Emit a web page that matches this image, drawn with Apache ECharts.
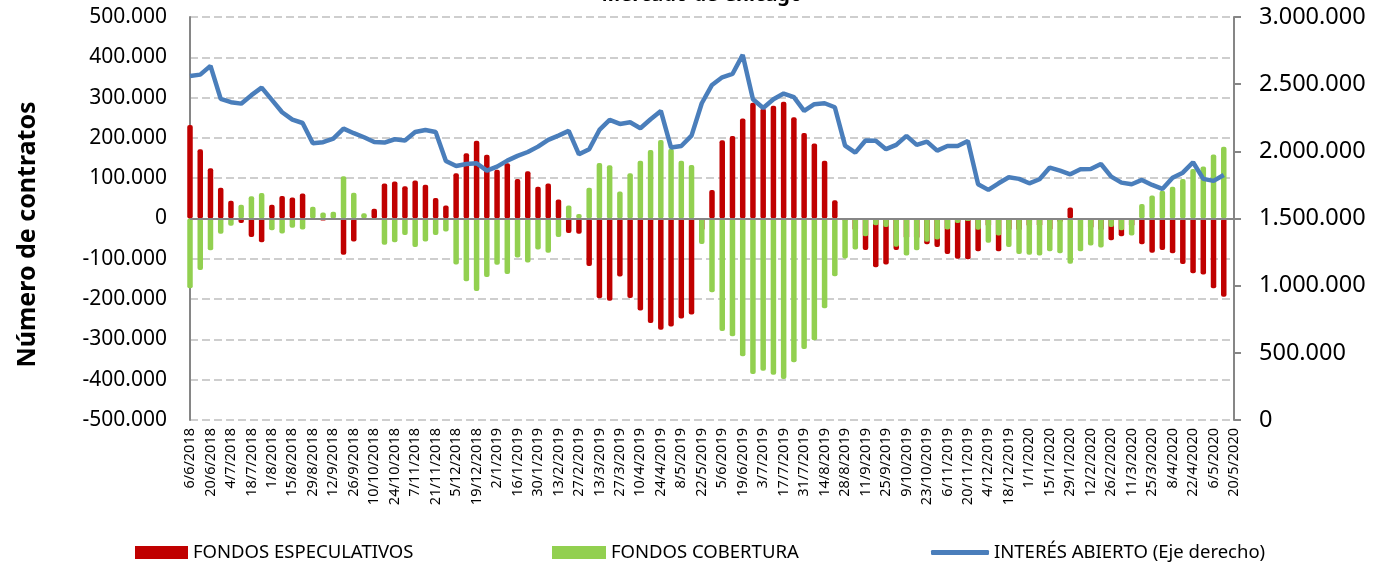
<!DOCTYPE html>
<html>
<head>
<meta charset="utf-8">
<title>Mercado de Chicago</title>
<script src="https://cdn.jsdelivr.net/npm/echarts@6/dist/echarts.min.js"></script>
<style>
  html, body { margin: 0; padding: 0; background: #fff; }
  #chart { width: 1384px; height: 568px; }
</style>
</head>
<body>
<div id="chart"></div>
<script>
// fechas semanales (eje de categorías)
const fechas = [
  '6/6/2018', '13/6/2018', '20/6/2018', '27/6/2018', '4/7/2018', '11/7/2018', '18/7/2018', '25/7/2018',
  '1/8/2018', '8/8/2018', '15/8/2018', '22/8/2018', '29/8/2018', '5/9/2018', '12/9/2018', '19/9/2018',
  '26/9/2018', '3/10/2018', '10/10/2018', '17/10/2018', '24/10/2018', '31/10/2018', '7/11/2018', '14/11/2018',
  '21/11/2018', '28/11/2018', '5/12/2018', '12/12/2018', '19/12/2018', '26/12/2018', '2/1/2019', '9/1/2019',
  '16/1/2019', '23/1/2019', '30/1/2019', '6/2/2019', '13/2/2019', '20/2/2019', '27/2/2019', '6/3/2019',
  '13/3/2019', '20/3/2019', '27/3/2019', '3/4/2019', '10/4/2019', '17/4/2019', '24/4/2019', '1/5/2019',
  '8/5/2019', '15/5/2019', '22/5/2019', '29/5/2019', '5/6/2019', '12/6/2019', '19/6/2019', '26/6/2019',
  '3/7/2019', '10/7/2019', '17/7/2019', '24/7/2019', '31/7/2019', '7/8/2019', '14/8/2019', '21/8/2019',
  '28/8/2019', '4/9/2019', '11/9/2019', '18/9/2019', '25/9/2019', '2/10/2019', '9/10/2019', '16/10/2019',
  '23/10/2019', '30/10/2019', '6/11/2019', '13/11/2019', '20/11/2019', '27/11/2019', '4/12/2019', '11/12/2019',
  '18/12/2019', '25/12/2019', '1/1/2020', '8/1/2020', '15/1/2020', '22/1/2020', '29/1/2020', '5/2/2020',
  '12/2/2020', '19/2/2020', '26/2/2020', '4/3/2020', '11/3/2020', '18/3/2020', '25/3/2020', '1/4/2020',
  '8/4/2020', '15/4/2020', '22/4/2020', '29/4/2020', '6/5/2020', '13/5/2020', '20/5/2020'
];

// posición neta (contratos)
const fondosEspeculativos = [
  232000, 172000, 125000, 76000, 44000, -11000, -46000, -59000, 34000, 56000,
  52000, 62000, -4000, -5000, -2000, -90000, -57000, -1000, 24000, 87000,
  92000, 80000, 94000, 84000, 51000, 32000, 112000, 162000, 193000, 158000,
  121000, 137000, 98000, 117000, 79000, 87000, 47000, -36000, -38000, -118000,
  -198000, -204000, -144000, -197000, -228000, -259000, -276000, -268000, -248000, -238000,
  -30000, 71000, 194000, 205000, 248000, 287000, 273000, 280000, 290000, 251000,
  212000, 186000, 143000, 45000, -5000, -30000, -78000, -121000, -114000, -78000,
  -50000, -50000, -64000, -71000, -88000, -100000, -101000, -81000, -20000, -81000,
  -30000, -30000, -20000, -20000, -29000, -10000, 27000, -5000, -25000, -30000,
  -54000, -44000, -20000, -64000, -85000, -78000, -86000, -113000, -136000, -139000,
  -173000, -194000
];

const fondosCobertura = [
  -173000, -128000, -79000, -38000, -18000, 34000, 55000, 63000, -29000, -37000,
  -23000, -27000, 29000, 15000, 17000, 105000, 64000, 13000, -4000, -65000,
  -59000, -41000, -71000, -57000, -41000, -32000, -114000, -156000, -180000, -145000,
  -115000, -138000, -97000, -109000, -77000, -85000, -46000, 32000, 11000, 76000,
  138000, 132000, 67000, 112000, 143000, 170000, 195000, 173000, 143000, 133000,
  -63000, -183000, -279000, -292000, -342000, -386000, -378000, -388000, -398000, -357000,
  -324000, -302000, -223000, -143000, -99000, -77000, -44000, -17000, -21000, -70000,
  -92000, -79000, -58000, -52000, -27000, -11000, -6000, -28000, -60000, -42000,
  -71000, -88000, -90000, -92000, -81000, -86000, -112000, -81000, -67000, -72000,
  -21000, -29000, -42000, 36000, 57000, 69000, 79000, 98000, 123000, 129000,
  159000, 178000
];

// interés abierto (eje derecho)
const interesAbierto = [
  2561000, 2571000, 2636000, 2390000, 2366000, 2355000, 2418000, 2474000, 2383000, 2291000,
  2236000, 2211000, 2060000, 2068000, 2095000, 2169000, 2135000, 2105000, 2070000, 2065000,
  2090000, 2080000, 2144000, 2159000, 2144000, 1928000, 1891000, 1906000, 1911000, 1856000,
  1886000, 1931000, 1966000, 1995000, 2035000, 2085000, 2117000, 2152000, 1978000, 2016000,
  2159000, 2234000, 2204000, 2216000, 2172000, 2239000, 2301000, 2028000, 2040000, 2117000,
  2358000, 2494000, 2551000, 2576000, 2718000, 2388000, 2323000, 2388000, 2430000, 2403000,
  2301000, 2351000, 2358000, 2328000, 2042000, 1990000, 2081000, 2078000, 2016000, 2048000,
  2115000, 2048000, 2072000, 2005000, 2040000, 2040000, 2077000, 1755000, 1713000, 1762000,
  1807000, 1795000, 1762000, 1792000, 1879000, 1856000, 1829000, 1867000, 1869000, 1906000,
  1812000, 1767000, 1755000, 1787000, 1750000, 1720000, 1804000, 1841000, 1919000, 1795000,
  1780000, 1824000
];

const FONT = '"Noto Sans", sans-serif';
const ROJO = '#c00000';
const VERDE = '#92d050';
const AZUL = '#4a7ebb';
const GRIS = '#868686';

// separador de miles con punto
function formatNum(v) {
  return String(v).replace(/\B(?=(\d{3})+(?!\d))/g, '.');
}

const chart = echarts.init(document.getElementById('chart'));

const legendText = { fontFamily: FONT, fontSize: 18.5, color: '#000' };

chart.setOption({
  animation: false,
  textStyle: { fontFamily: FONT, color: '#000' },
  graphic: [{
    type: 'text',
    style: {
      text: 'Mercado de Chicago',
      x: 702,
      y: 5,
      textAlign: 'center',
      textVerticalAlign: 'bottom',
      font: 'bold 20px ' + FONT,
      fill: '#000'
    }
  }],
  legend: [
    {
      left: 135, top: 543, padding: 0, itemWidth: 53, itemHeight: 13,
      textStyle: legendText,
      data: [{ name: 'FONDOS ESPECULATIVOS', icon: 'rect' }]
    },
    {
      left: 552, top: 543, padding: 0, itemWidth: 54, itemHeight: 13,
      textStyle: legendText,
      data: [{ name: 'FONDOS COBERTURA', icon: 'rect' }]
    },
    {
      left: 931, top: 543, padding: 0, itemWidth: 58, itemHeight: 5,
      textStyle: legendText,
      data: [{ name: 'INTERÉS ABIERTO (Eje derecho)', icon: 'roundRect' }]
    }
  ],
  grid: { left: 190, right: 150, top: 17, bottom: 148, outerBoundsMode: 'none' },
  xAxis: {
    type: 'category',
    data: fechas,
    boundaryGap: false,
    axisLine: { show: false },
    axisTick: { show: false },
    splitLine: { show: false },
    axisLabel: { rotate: 90, interval: 1, fontFamily: FONT, fontSize: 14.5, color: '#000', margin: 8 }
  },
  yAxis: [
    {
      type: 'value',
      min: -500000,
      max: 500000,
      interval: 100000,
      name: 'Número de contratos',
      nameLocation: 'middle',
      nameRotate: 90,
      nameGap: 150,
      nameTextStyle: { fontFamily: FONT, fontSize: 25, fontWeight: 'bold', color: '#000', padding: [0, 32, 0, 0] },
      axisLine: { show: true, lineStyle: { color: GRIS, width: 2 } },
      axisTick: { show: false },
      axisLabel: { formatter: formatNum, fontFamily: FONT, fontSize: 21, color: '#000', margin: 23 },
      splitLine: { lineStyle: { color: '#bfbfbf', type: [8, 4], width: 1.5 } }
    },
    {
      type: 'value',
      position: 'right',
      min: 0,
      max: 3000000,
      interval: 500000,
      axisLine: { show: true, lineStyle: { color: GRIS, width: 2 } },
      axisTick: { show: true, length: 7, lineStyle: { color: GRIS, width: 2 } },
      axisLabel: { formatter: formatNum, fontFamily: FONT, fontSize: 23.5, color: '#000', margin: 25 },
      splitLine: { show: false }
    }
  ],
  series: [
    {
      name: 'FONDOS ESPECULATIVOS',
      type: 'bar',
      data: fondosEspeculativos,
      barWidth: 5.5,
      clip: true,
      itemStyle: { color: ROJO, borderRadius: 2 }
    },
    {
      name: 'FONDOS COBERTURA',
      type: 'bar',
      data: fondosCobertura,
      barWidth: 5.5,
      barGap: '-100%',
      clip: true,
      itemStyle: { color: VERDE, borderRadius: 2 },
      // línea del cero
      markLine: {
        silent: true,
        symbol: ['none', 'none'],
        label: { show: false },
        lineStyle: { color: GRIS, type: 'solid', width: 2 },
        data: [{ yAxis: 0 }]
      }
    },
    {
      name: 'INTERÉS ABIERTO (Eje derecho)',
      type: 'line',
      yAxisIndex: 1,
      data: interesAbierto,
      symbol: 'none',
      lineStyle: { color: AZUL, width: 4.5 },
      itemStyle: { color: AZUL }
    }
  ]
});
</script>
</body>
</html>
